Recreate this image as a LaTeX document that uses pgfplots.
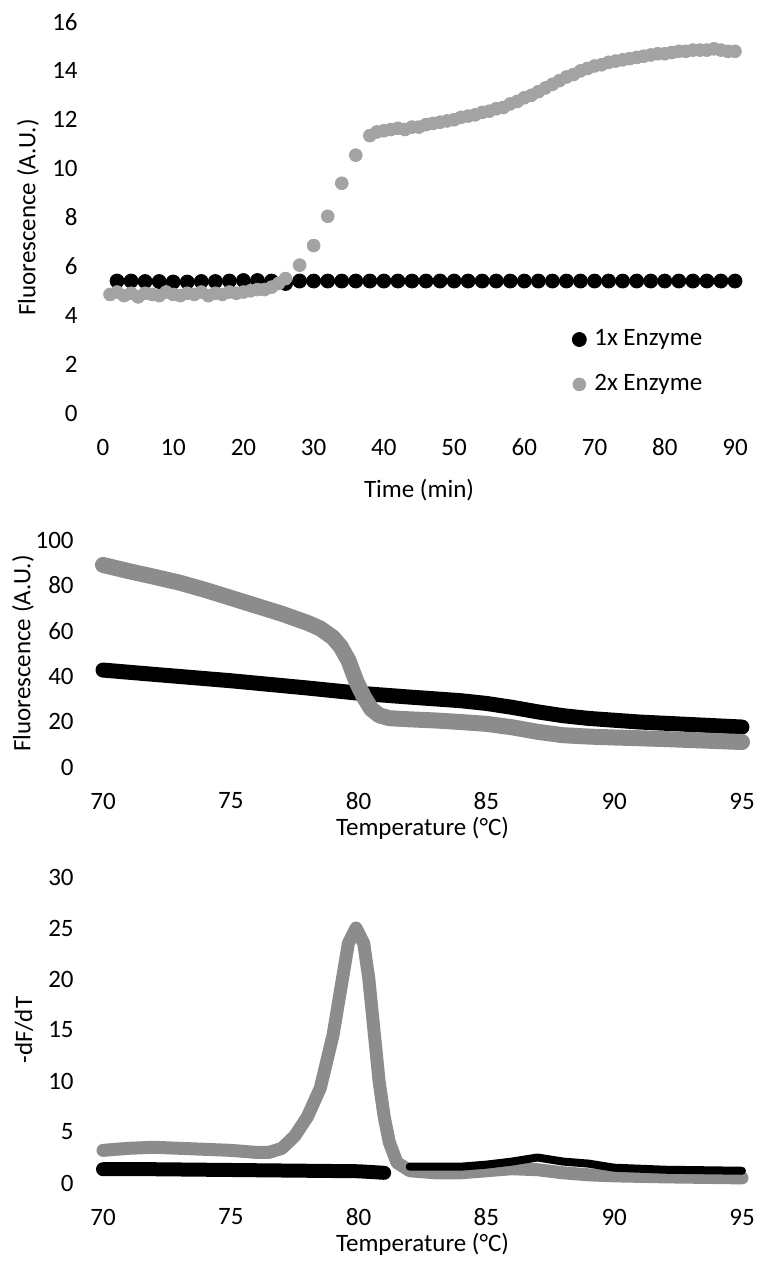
\documentclass[border=0pt]{standalone}
\usepackage{fontspec}
\setmainfont{Carlito}
\usepackage{pgfplots}
\pgfplotsset{compat=1.18}
\pgfplotsset{
  myax/.style={scale only axis, axis line style={draw=none}, major tick length=0pt,
    tick style={draw=none}, clip=false, enlargelimits=false,
    /pgf/number format/assume math mode=true,
    tick label style={font=\fontsize{12.5}{15}\selectfont, inner sep=0pt},
    label style={font=\fontsize{12.5}{15}\selectfont},
    xticklabel style={anchor=center, yshift=-17pt},
    xlabel style={at={(axis description cs:0.5,0)}, anchor=center},
    ylabel style={anchor=center}},
  dotleg/.style={legend image code/.code={\draw[##1] plot coordinates {(0pt,0pt)};}}
}
\definecolor{gA}{gray}{0.64}
\definecolor{gB}{gray}{0.55}
\begin{document}
\fontsize{12.5}{15}\selectfont
\begin{tikzpicture}
% ---------------- Panel 1 ----------------
\begin{axis}[myax, at={(51.5pt,425pt)}, anchor=south west, width=316pt, height=195.5pt,
  xmin=0, xmax=90, ymin=0, ymax=16, xtick={0,10,...,90}, ytick={0,2,...,16},
  yticklabel style={anchor=east, xshift=-12.5pt},
  xlabel={Time (min)}, xlabel style={yshift=-38.5pt},
  ylabel={Fluorescence (A.U.)}, ylabel style={at={(axis description cs:-0.1187,0.5)}},
  legend style={at={(axis description cs:0.742,0.1304)}, anchor=west, draw=none, fill=none,
    inner sep=0pt, row sep=12.5pt, column sep=4pt, font=\fontsize{12.5}{15}\selectfont,
    nodes={inner sep=0pt}},
  legend cell align=left]
\addplot[only marks, mark=*, mark size=3.5pt, black, dotleg] coordinates {
(2,5.4)(4,5.4)(6,5.38)(8,5.38)(10,5.36)(12,5.36)(14,5.38)(16,5.38)(18,5.4)(20,5.42)
(22,5.42)(24,5.4)(26,5.3)(28,5.4)(30,5.4)(32,5.4)(34,5.4)(36,5.4)(38,5.4)(40,5.4)
(42,5.4)(44,5.4)(46,5.4)(48,5.4)(50,5.4)(52,5.4)(54,5.4)(56,5.4)(58,5.4)(60,5.4)
(62,5.4)(64,5.4)(66,5.4)(68,5.4)(70,5.4)(72,5.4)(74,5.4)(76,5.4)(78,5.4)(80,5.4)
(82,5.4)(84,5.4)(86,5.4)(88,5.4)(90,5.4)};
\addlegendentry{1x Enzyme}
\addplot[only marks, mark=*, mark size=3.2pt, color=gA, dotleg] coordinates {
(1,4.85)(2,4.95)(3,4.8)(4,4.9)(5,4.75)(6,4.9)(7,4.85)(8,4.8)(9,4.95)(10,4.85)
(11,4.8)(12,4.9)(13,4.85)(14,4.95)(15,4.8)(16,4.9)(17,4.85)(18,4.95)(19,4.9)(20,4.95)
(21,5.0)(22,5.05)(23,5.05)(24,5.15)(25,5.3)(26,5.5)(28,6.05)(30,6.85)(32,8.05)(34,9.4)
(36,10.55)(38,11.35)(39,11.5)(40,11.55)(41,11.6)(42,11.65)(43,11.6)(44,11.7)(45,11.7)(46,11.8)
(47,11.85)(48,11.9)(49,11.95)(50,12.0)(51,12.1)(52,12.15)(53,12.2)(54,12.3)(55,12.35)(56,12.45)
(57,12.5)(58,12.65)(59,12.75)(60,12.9)(61,13.0)(62,13.15)(63,13.3)(64,13.45)(65,13.6)(66,13.75)
(67,13.85)(68,14.0)(69,14.1)(70,14.2)(71,14.25)(72,14.35)(73,14.4)(74,14.45)(75,14.5)(76,14.55)
(77,14.6)(78,14.65)(79,14.7)(80,14.7)(81,14.75)(82,14.8)(83,14.8)(84,14.85)(85,14.85)(86,14.85)
(87,14.9)(88,14.85)(89,14.8)(90,14.8)};
\addlegendentry{2x Enzyme}
\end{axis}
% ---------------- Panel 2 ----------------
\begin{axis}[myax, at={(51.5pt,248pt)}, anchor=south west, width=319.5pt, height=113.5pt,
  xmin=70, xmax=95, ymin=0, ymax=100, xtick={70,75,...,95}, ytick={0,20,...,100},
  yticklabel style={anchor=east, xshift=-14.5pt},
  xlabel={Temperature (°C)}, xlabel style={yshift=-30.5pt},
  ylabel={Fluorescence (A.U.)}, ylabel style={at={(axis description cs:-0.1252,0.5)}}]
\addplot[black, line width=7.5pt, line cap=round, line join=round] coordinates {
(70,42.7)(72,40.8)(75,38.0)(78,34.8)(80,32.5)(82,30.8)(83,30.0)(84,29.2)(85,28.0)
(86,26.3)(87,24.3)(88,22.6)(89,21.4)(90,20.6)(91,19.8)(93,18.7)(95,17.6)};
\addplot[gB, line width=8pt, line cap=round, line join=round] coordinates {
(70,89)(71,86.3)(72,83.8)(73,81.2)(74,78)(75,74.5)(76,71)(77,67.5)(77.5,65.5)(78,63.5)
(78.5,61)(79,57)(79.3,53)(79.6,47)(79.9,38)(80.2,31)(80.5,25.5)(80.8,22.8)(81.2,21.5)
(82,21)(83,20.5)(84,19.8)(85,19)(86,17.5)(87,15.5)(88,14)(89,13.4)(90,13)(92,12.3)(95,11)};
\end{axis}
% ---------------- Panel 3 ----------------
\begin{axis}[myax, at={(51.5pt,40pt)}, anchor=south west, width=319.5pt, height=153pt,
  xmin=70, xmax=95, ymin=0, ymax=30, xtick={70,75,...,95}, ytick={0,5,...,30},
  yticklabel style={anchor=east, xshift=-14.5pt},
  xlabel={Temperature (°C)}, xlabel style={yshift=-30.5pt},
  ylabel={-dF/dT}, ylabel style={at={(axis description cs:-0.1236,0.5)}}]
\addplot[gB, line width=6.5pt, line cap=round, line join=round] coordinates {
(70,3.2)(71,3.4)(72,3.5)(73,3.4)(74,3.3)(75,3.2)(76,3.0)(76.5,3.0)(77,3.4)(77.5,4.6)
(78,6.5)(78.5,9.3)(79,14.5)(79.3,19)(79.6,23.5)(79.9,25)(80.2,23.5)(80.4,20)(80.6,15)
(80.8,10)(81,6.5)(81.2,4)(81.5,2)(82,1.2)(83,1.0)(84,1.0)(85,1.2)(86,1.4)(87,1.3)
(88,1.0)(89,0.8)(90,0.7)(92,0.6)(95,0.5)};
\addplot[black, line width=7pt, line cap=round, line join=round] coordinates {
(70,1.35)(72,1.35)(74,1.3)(76,1.25)(78,1.2)(80,1.15)(81,1.0)};
\addplot[black, line width=4pt, line cap=round, line join=round] coordinates {
(82,1.6)(84,1.6)(85,1.8)(86,2.1)(87,2.5)(88,2.1)(89,1.9)(90,1.5)(92,1.3)(95,1.2)};
\end{axis}
\pgfresetboundingbox
\path[use as bounding box] (0,0) rectangle (379pt,631.5pt);
\end{tikzpicture}
\end{document}
